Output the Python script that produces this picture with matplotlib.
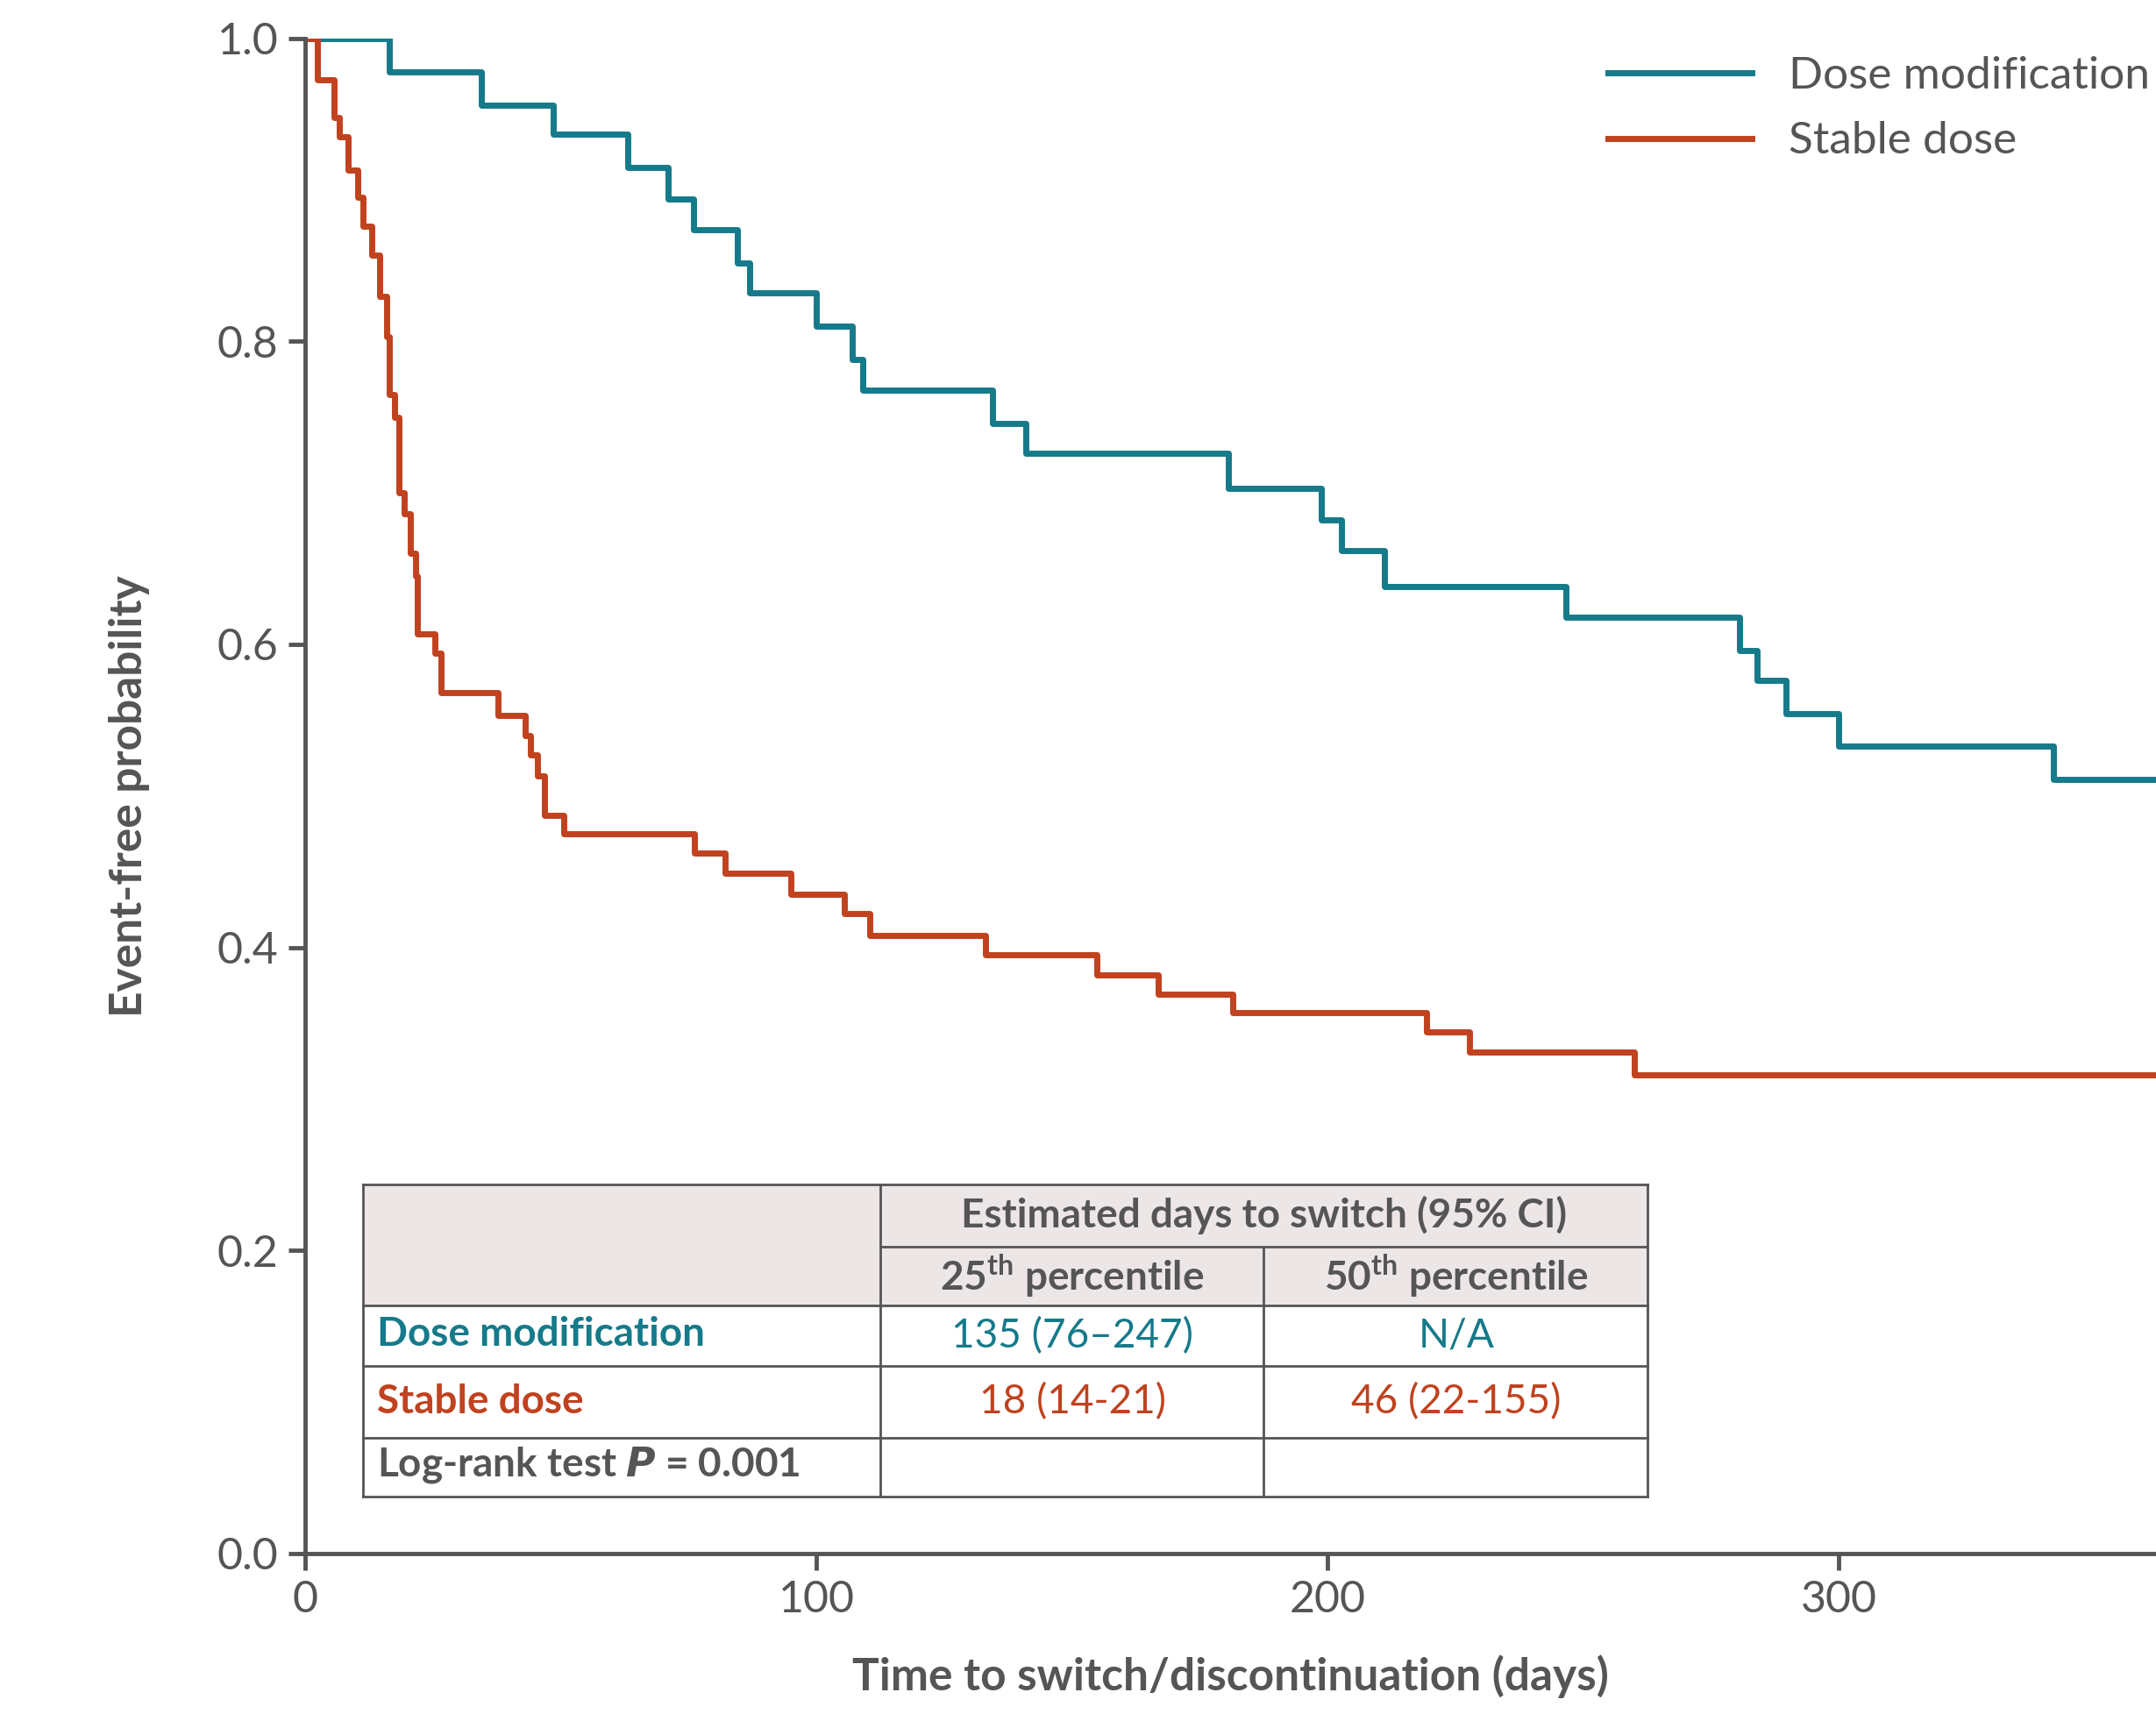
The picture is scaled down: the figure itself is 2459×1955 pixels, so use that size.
import matplotlib
matplotlib.use("Agg")
import matplotlib.pyplot as plt
from matplotlib.patches import Rectangle

plt.rcParams['font.family'] = ['Lato', 'DejaVu Sans']

dose_t = [0, 16.4, 34.5, 48.5, 63, 71, 76, 84.5, 87, 100, 107, 109, 134.5, 141, 180.6, 198.7, 202.7, 211, 246.6, 280.5, 284, 289.6, 300, 342, 362]
dose_s = [1.0, 0.978, 0.956, 0.937, 0.915, 0.894, 0.874, 0.852, 0.832, 0.810, 0.788, 0.768, 0.746, 0.726, 0.703, 0.682, 0.662, 0.638, 0.618, 0.596, 0.576, 0.554, 0.533, 0.511, 0.511]
stab_t = [0, 2.4, 5.7, 6.7, 8.3, 10.2, 11.3, 13, 14.5, 16, 16.5, 17.5, 18.3, 19.4, 20.5, 21.5, 22, 25.3, 26.6, 37.7, 43, 44, 45.5, 46.8, 50.6, 76.2, 82.1, 95, 105.5, 110.4, 133, 154.8, 166.8, 181.4, 219.4, 227.7, 260, 362]
stab_s = [1.0, 0.973, 0.948, 0.935, 0.913, 0.895, 0.876, 0.857, 0.830, 0.803, 0.765, 0.750, 0.700, 0.686, 0.660, 0.645, 0.607, 0.594, 0.568, 0.553, 0.540, 0.527, 0.513, 0.487, 0.475, 0.462, 0.449, 0.435, 0.422, 0.408, 0.395, 0.382, 0.369, 0.357, 0.344, 0.331, 0.316, 0.316]

BLUE = '#157a8a'
RED = '#c0421f'
GREY = '#555555'
SHADE = '#ede6e6'

W, H = 1568, 1247
fig = plt.figure(figsize=(24.59, 19.55), dpi=100)
ax = fig.add_axes([222/W, 1-1130/H, 1-222/W, (1130-28)/H])
ax.step(dose_t, dose_s, where='post', color=BLUE, lw=5, label='Dose modification')
ax.step(stab_t, stab_s, where='post', color=RED, lw=5, label='Stable dose')
ax.set_xlim(0, 362)
ax.set_ylim(0, 1.0)
ax.set_xticks([0, 100, 200, 300])
ax.set_yticks([0, 0.2, 0.4, 0.6, 0.8, 1.0])
ax.set_yticklabels(['0.0', '0.2', '0.4', '0.6', '0.8', '1.0'])
for s in ['top', 'right']:
    ax.spines[s].set_visible(False)
for s in ['left', 'bottom']:
    ax.spines[s].set_color(GREY)
    ax.spines[s].set_linewidth(3.5)
ax.tick_params(colors=GREY, labelsize=36, width=3.5, length=14, direction='out', pad=8)
ax.set_xlabel('Time to switch/discontinuation (days)', fontsize=37, fontweight='bold', color=GREY, labelpad=28)
ax.set_ylabel('Event-free probability', fontsize=37, fontweight='bold', color=GREY, labelpad=55)
ax.legend(loc='upper left', bbox_to_anchor=((1140-222)/(W-222), 1.015),
          frameon=False, fontsize=37, handlelength=3.2, handletextpad=0.8, labelspacing=0.55, labelcolor=GREY)
for l in ax.get_legend().get_lines():
    l.set_linewidth(5)

# table
tx = fig.add_axes([264/W, 1-1089/H, (1198-264)/W, (1089-862)/H])
tx.set_xlim(264, 1198)
tx.set_ylim(1089, 862)
tx.axis('off')
tx.add_patch(Rectangle((264, 862), 1198-264, 950-862, color=SHADE, lw=0))
lc = GREY; lw = 2
for y in [862, 950, 994, 1046, 1089]:
    tx.plot([264, 1198], [y, y], color=lc, lw=lw, clip_on=False)
tx.plot([640, 1198], [907, 907], color=lc, lw=lw)
for x in [264, 640, 1198]:
    tx.plot([x, x], [862, 1089], color=lc, lw=lw, clip_on=False)
tx.plot([919, 919], [907, 1089], color=lc, lw=lw)
fs = 33
tx.text(919, 884, 'Estimated days to switch (95% CI)', ha='center', va='center', fontsize=fs, fontweight='bold', color=GREY)
tx.text(780, 928, r'25$^{\mathregular{th}}$ percentile', ha='center', va='center', fontsize=fs, fontweight='bold', color=GREY)
tx.text(1059, 928, r'50$^{\mathregular{th}}$ percentile', ha='center', va='center', fontsize=fs, fontweight='bold', color=GREY)
tx.text(274, 971, 'Dose modification', ha='left', va='center', fontsize=fs, fontweight='bold', color=BLUE)
tx.text(780, 972, '135 (76–247)', ha='center', va='center', fontsize=fs, color=BLUE)
tx.text(1059, 972, 'N/A', ha='center', va='center', fontsize=fs, color=BLUE)
tx.text(274, 1020, 'Stable dose', ha='left', va='center', fontsize=fs, fontweight='bold', color=RED)
tx.text(780, 1020, '18 (14-21)', ha='center', va='center', fontsize=fs, color=RED)
tx.text(1059, 1020, '46 (22-155)', ha='center', va='center', fontsize=fs, color=RED)
tx.text(274, 1066, r'Log-rank test $\boldsymbol{P}$ = 0.001', ha='left', va='center', fontsize=fs, fontweight='bold', color=GREY)

fig.savefig('out.png', dpi=100)
